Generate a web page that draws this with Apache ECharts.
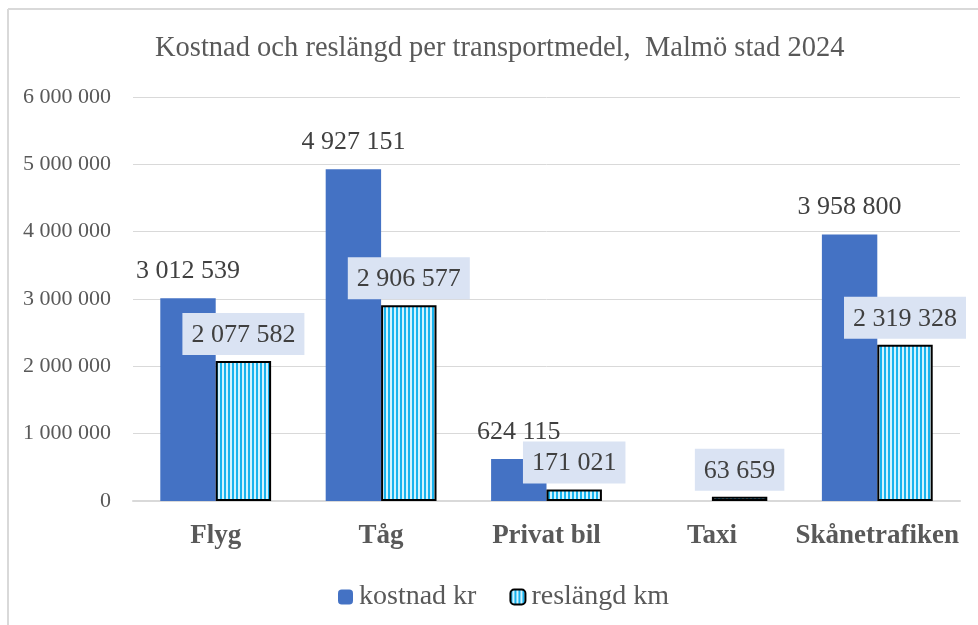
<!DOCTYPE html>
<html>
<head>
<meta charset="utf-8">
<script src="https://cdn.jsdelivr.net/npm/echarts@6/dist/echarts.min.js"></script>
<style>
html,body{margin:0;padding:0;background:#fff;}
#chart{width:978px;height:625px;}
</style>
</head>
<body>
<div id="chart"></div>
<script>
const categories = ['Flyg', 'Tåg', 'Privat bil', 'Taxi', 'Skånetrafiken'];
const kostnadKr = [3012539, 4927151, 624115, null, 3958800];
const reslangdKm = [2077582, 2906577, 171021, 63659, 2319328];
const seriesNames = ['kostnad kr', 'reslängd km'];
const titleText = 'Kostnad och reslängd per transportmedel,  Malmö stad 2024';

function fmt(v) {
  return String(Math.round(v)).replace(/\B(?=(\d{3})+(?!\d))/g, ' ');
}

const pc = document.createElement('canvas');
pc.width = 4; pc.height = 4;
const g = pc.getContext('2d');
g.fillStyle = '#d2f3ff'; g.fillRect(0, 0, 4, 4);
g.fillStyle = '#19b3ee'; g.fillRect(0, 0, 2, 4);

const serif = '"Liberation Serif", "DejaVu Serif", serif';
const chart = echarts.init(document.getElementById('chart'), null, {renderer: 'canvas'});
chart.setOption({
  animation: false,
  textStyle: {fontFamily: serif},
  title: {
    text: titleText, left: 150, top: 29,
    textStyle: {fontFamily: serif, fontSize: 28.5, fontWeight: 'normal', color: '#595959'}
  },
  graphic: [
    {type: 'line', shape: {x1: 8, y1: 9, x2: 978, y2: 9}, style: {stroke: '#d9d9d9', lineWidth: 2}},
    {type: 'line', shape: {x1: 8, y1: 9, x2: 8, y2: 625}, style: {stroke: '#d9d9d9', lineWidth: 2}}
  ],
  legend: {
    bottom: 9, left: 333, itemWidth: 15, itemHeight: 15, itemGap: 33,
    textStyle: {fontFamily: serif, fontSize: 28, color: '#595959', padding: [0, 0, 0, 1]},
    data: seriesNames
  },
  grid: {left: 133, right: 18, top: 97, bottom: 124},
  xAxis: {
    type: 'category', data: categories,
    axisLine: {lineStyle: {color: '#d9d9d9', width: 2}},
    axisTick: {show: false},
    axisLabel: {interval: 0, fontFamily: serif, fontSize: 27, fontWeight: 'bold', color: '#595959', margin: 22}
  },
  yAxis: {
    type: 'value', min: 0, max: 6000000, interval: 1000000,
    axisLine: {show: false}, axisTick: {show: false},
    splitLine: {lineStyle: {color: '#d9d9d9', width: 1}},
    axisLabel: {fontFamily: serif, fontSize: 22, color: '#595959', margin: 22, formatter: v => fmt(v)}
  },
  series: [
    {
      name: seriesNames[0], type: 'bar', data: kostnadKr,
      barGap: '0%', barCategoryGap: '33%',
      itemStyle: {color: '#4472c4'},
      label: {
        show: true, position: 'top', distance: 14,
        fontFamily: serif, fontSize: 26, color: '#404040',
        formatter: p => p.value == null ? '' : fmt(p.value)
      }
    },
    {
      name: seriesNames[1], type: 'bar', data: reslangdKm,
      itemStyle: {color: {image: pc, repeat: 'repeat'}, borderColor: '#000', borderWidth: 2},
      label: {
        show: true, position: 'top', distance: 6,
        fontFamily: serif, fontSize: 26, color: '#404040',
        backgroundColor: '#dae3f3', padding: [9, 9, 7, 9],
        formatter: p => fmt(p.value)
      }
    }
  ]
});
</script>
</body>
</html>
